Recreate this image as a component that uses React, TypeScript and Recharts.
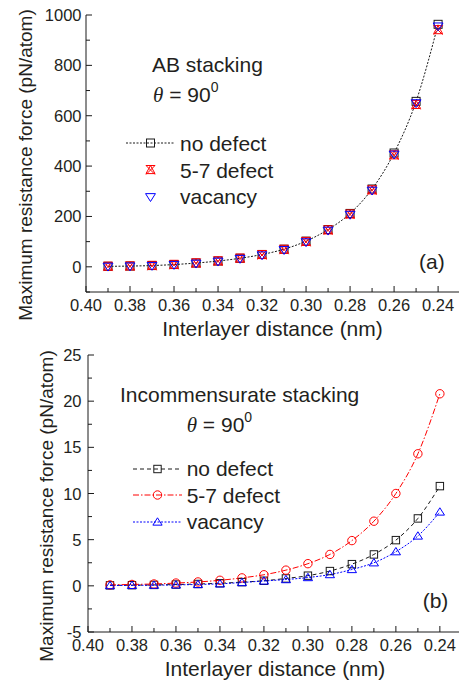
import React from 'react';
import { LineChart, Line, XAxis, YAxis, Legend } from 'recharts';

const distances = [0.39, 0.38, 0.37, 0.36, 0.35, 0.34, 0.33, 0.32, 0.31, 0.3, 0.29, 0.28, 0.27, 0.26, 0.25, 0.24];

const abNoDefect = [2, 3, 5, 9, 15, 23, 34, 49, 70, 102, 148, 212, 309, 452, 657, 963];
const abDefect57 = [1, 2, 4, 8, 14, 22, 33, 47, 68, 99, 145, 208, 304, 443, 643, 940];
const abVacancy = [1, 2, 4, 8, 13, 21, 32, 46, 67, 98, 144, 207, 303, 446, 650, 955];

const incNoDefect = [0.05, 0.07, 0.1, 0.14, 0.2, 0.28, 0.4, 0.55, 0.8, 1.1, 1.6, 2.35, 3.4, 4.95, 7.3, 10.8];
const incDefect57 = [0.1, 0.15, 0.2, 0.3, 0.42, 0.6, 0.86, 1.2, 1.7, 2.4, 3.4, 4.9, 7.0, 10.0, 14.3, 20.8];
const incVacancy = [0.03, 0.05, 0.07, 0.1, 0.15, 0.22, 0.36, 0.53, 0.68, 0.9, 1.22, 1.77, 2.5, 3.7, 5.4, 8.0];

const xTicks = [0.4, 0.39, 0.38, 0.37, 0.36, 0.35, 0.34, 0.33, 0.32, 0.31, 0.3, 0.29, 0.28, 0.27, 0.26, 0.25, 0.24];
const xLabelTicks = [0.4, 0.38, 0.36, 0.34, 0.32, 0.3, 0.28, 0.26, 0.24];
const abYTicks = [-100, 0, 100, 200, 300, 400, 500, 600, 700, 800, 900, 1000];
const abYLabelTicks = [0, 200, 400, 600, 800, 1000];
const incYTicks = [-5, -2.5, 0, 2.5, 5, 7.5, 10, 12.5, 15, 17.5, 20, 22.5, 25];
const incYLabelTicks = [-5, 0, 5, 10, 15, 20, 25];

const abData = distances.map((d, i) => ({ d, no: abNoDefect[i], d57: abDefect57[i], vac: abVacancy[i] }));
const incData = distances.map((d, i) => ({ d, no: incNoDefect[i], d57: incDefect57[i], vac: incVacancy[i] }));

const FONT = '"Liberation Sans", Arial, Helvetica, sans-serif';
const TXT = '#231f20';
const RED = '#ff0000';
const BLUE = '#0000ff';
const BLACK = '#1a1a1a';

const isIn = (arr: number[], v: number) => arr.some((a) => Math.abs(a - v) < 1e-9);

type ShapeName = 'square' | 'xtri' | 'tridown' | 'circle' | 'triup';

function Marker({ cx, cy, shape, color, s }: { cx: number; cy: number; shape: ShapeName; color: string; s: number }) {
  if (cx == null || cy == null) return null;
  const common = { fill: 'none', stroke: color, strokeWidth: 1 };
  switch (shape) {
    case 'square':
      return <rect x={cx - s} y={cy - s} width={2 * s} height={2 * s} {...common} />;
    case 'circle':
      return <circle cx={cx} cy={cy} r={s} {...common} />;
    case 'triup':
      return <path d={`M${cx},${cy - s} L${cx + s * 1.1},${cy + s * 0.75} L${cx - s * 1.1},${cy + s * 0.75} Z`} {...common} />;
    case 'tridown':
      return <path d={`M${cx - s * 1.1},${cy - s * 0.75} L${cx + s * 1.1},${cy - s * 0.75} L${cx},${cy + s} Z`} {...common} />;
    case 'xtri':
      return (
        <path
          d={`M${cx - s},${cy - s} L${cx + s},${cy + s} M${cx + s},${cy - s} L${cx - s},${cy + s} M${cx},${cy - s} L${cx + s},${cy + s * 0.8} L${cx - s},${cy + s * 0.8} Z M${cx - s},${cy - s} L${cx + s},${cy - s}`}
          {...common}
        />
      );
    default:
      return null;
  }
}

const dotFn = (shape: ShapeName, color: string, s: number) => (p: any) => (
  <Marker key={`m-${shape}-${p.index}`} cx={p.cx} cy={p.cy} shape={shape} color={color} s={s} />
);

const BottomTick = (labels: number[]) => (p: any) => {
  const { x, y, payload } = p;
  const v = payload.value;
  const major = isIn(labels, v);
  return (
    <g>
      <line x1={x} y1={y} x2={x} y2={y - (major ? 6 : 4)} stroke={BLACK} strokeWidth={1} />
      {major && (
        <text x={x} y={y + 13} textAnchor="middle" dominantBaseline="central" fontSize={16.5} fill={TXT} fontFamily={FONT}>
          {v.toFixed(2)}
        </text>
      )}
    </g>
  );
};

const TopTick = (labels: number[]) => (p: any) => {
  const { x, y, payload } = p;
  const major = isIn(labels, payload.value);
  return <line x1={x} y1={y} x2={x} y2={y + (major ? 6 : 4)} stroke={BLACK} strokeWidth={1} />;
};

const LeftTick = (labels: number[], gap: number) => (p: any) => {
  const { x, y, payload } = p;
  const v = payload.value;
  const major = isIn(labels, v);
  return (
    <g>
      <line x1={x} y1={y} x2={x + (major ? 6 : 4)} y2={y} stroke={BLACK} strokeWidth={1} />
      {major && (
        <text x={x - gap} y={y} textAnchor="end" dominantBaseline="central" fontSize={16.5} fill={TXT} fontFamily={FONT}>
          {String(v)}
        </text>
      )}
    </g>
  );
};

const RightTick = (labels: number[]) => (p: any) => {
  const { x, y, payload } = p;
  const major = isIn(labels, payload.value);
  return <line x1={x} y1={y} x2={x - (major ? 6 : 4)} y2={y} stroke={BLACK} strokeWidth={1} />;
};

type LegendItem = { label: string; color: string; shape: ShapeName; dash?: string; s: number };

const abLegend: LegendItem[] = [
  { label: 'no defect', color: BLACK, shape: 'square', dash: '2 1.5', s: 4 },
  { label: '5-7 defect', color: RED, shape: 'xtri', s: 4.5 },
  { label: 'vacancy', color: BLUE, shape: 'tridown', s: 4.5 },
];
const incLegend: LegendItem[] = [
  { label: 'no defect', color: BLACK, shape: 'square', dash: '4 3', s: 3.7 },
  { label: '5-7 defect', color: RED, shape: 'circle', dash: '6 2 1.5 2', s: 4.2 },
  { label: 'vacancy', color: BLUE, shape: 'triup', dash: '2 1.5', s: 4.2 },
];

const LegendBox = ({ items, rowH, gap }: { items: LegendItem[]; rowH: number; gap: number }) => (
  <div style={{ fontFamily: FONT }}>
    {items.map((it) => (
      <div key={it.label} style={{ display: 'flex', alignItems: 'center', height: rowH }}>
        <svg width={49} height={20} style={{ display: 'block' }}>
          {it.dash && <line x1={0} y1={10} x2={49} y2={10} stroke={it.color} strokeWidth={1} strokeDasharray={it.dash} />}
          <Marker cx={24.5} cy={10} shape={it.shape} color={it.color} s={it.s} />
        </svg>
        <span style={{ marginLeft: gap, fontSize: 21, color: TXT, lineHeight: '21px', whiteSpace: 'nowrap' }}>{it.label}</span>
      </div>
    ))}
  </div>
);

const yTitle = (cx: number, cy: number) => () => (
  <text
    x={cx}
    y={cy}
    transform={`rotate(-90 ${cx} ${cy})`}
    textAnchor="middle"
    dominantBaseline="central"
    fontSize={19}
    fill={TXT}
    fontFamily={FONT}
  >
    Maximum resistance force (pN/atom)
  </text>
);

const xTitle = (cx: number, by: number) => () => (
  <text x={cx} y={by} textAnchor="middle" fontSize={21} fill={TXT} fontFamily={FONT}>
    Interlayer distance (nm)
  </text>
);

export default function App() {
  return (
    <div style={{ position: 'absolute', left: 0, top: 0, width: 459, height: 683, background: '#fff', overflow: 'hidden' }}>
      <div style={{ position: 'absolute', left: 0, top: 0 }}>
        <LineChart width={459} height={345} data={abData} margin={{ top: 15, right: 0, bottom: 0, left: 0 }}>
          <XAxis
            xAxisId="b"
            dataKey="d"
            type="number"
            domain={[0.2305, 0.4]}
            reversed
            allowDataOverflow
            ticks={xTicks}
            interval={0}
            tickSize={0}
            tickMargin={0}
            tickLine={false}
            axisLine={{ stroke: BLACK }}
            tick={BottomTick(xLabelTicks)}
            height={53}
            label={{ content: xTitle(272.5, 335.5) }}
          />
          <XAxis
            xAxisId="t"
            orientation="top"
            type="number"
            domain={[0.2305, 0.4]}
            reversed
            allowDataOverflow
            ticks={xTicks}
            interval={0}
            tickSize={0}
            tickMargin={0}
            tickLine={false}
            axisLine={{ stroke: BLACK }}
            tick={TopTick(xLabelTicks)}
            height={0}
          />
          <YAxis
            yAxisId="l"
            type="number"
            domain={[-100, 1000]}
            allowDataOverflow
            ticks={abYTicks}
            interval={0}
            tickSize={0}
            tickMargin={0}
            tickLine={false}
            axisLine={{ stroke: BLACK }}
            tick={LeftTick(abYLabelTicks, 4.5)}
            width={86}
            label={{ content: yTitle(25.5, 165) }}
          />
          <YAxis
            yAxisId="r"
            orientation="right"
            type="number"
            domain={[-100, 1000]}
            allowDataOverflow
            ticks={abYTicks}
            interval={0}
            tickSize={0}
            tickMargin={0}
            tickLine={false}
            axisLine={false}
            tick={RightTick(abYLabelTicks)}
            width={0}
          />
          <Line
            xAxisId="b"
            yAxisId="l"
            dataKey="no"
            type="monotone"
            stroke={BLACK}
            strokeWidth={1}
            strokeDasharray="2 1.5"
            dot={dotFn('square', BLACK, 4)}
            isAnimationActive={false}
          />
          <Line
            xAxisId="b"
            yAxisId="l"
            dataKey="d57"
            type="monotone"
            stroke="none"
            dot={dotFn('xtri', RED, 4.5)}
            isAnimationActive={false}
          />
          <Line
            xAxisId="b"
            yAxisId="l"
            dataKey="vac"
            type="monotone"
            stroke="none"
            dot={dotFn('tridown', BLUE, 4.5)}
            isAnimationActive={false}
          />
          <Legend
            layout="vertical"
            align="center"
            verticalAlign="middle"
            wrapperStyle={{ left: 126, top: 130, width: 200 }}
            content={() => <LegendBox items={abLegend} rowH={26.7} gap={5} />}
          />
        </LineChart>
      </div>
      <div style={{ position: 'absolute', left: 0, top: 330 }}>
        <LineChart width={459} height={353} data={incData} margin={{ top: 25, right: 0, bottom: 0, left: 0 }}>
          <XAxis
            xAxisId="b"
            dataKey="d"
            type="number"
            domain={[0.2313, 0.4]}
            reversed
            allowDataOverflow
            ticks={xTicks}
            interval={0}
            tickSize={0}
            tickMargin={0}
            tickLine={false}
            axisLine={{ stroke: BLACK }}
            tick={BottomTick(xLabelTicks)}
            height={51}
            label={{ content: xTitle(275, 346) }}
          />
          <XAxis
            xAxisId="t"
            orientation="top"
            type="number"
            domain={[0.2313, 0.4]}
            reversed
            allowDataOverflow
            ticks={xTicks}
            interval={0}
            tickSize={0}
            tickMargin={0}
            tickLine={false}
            axisLine={{ stroke: BLACK }}
            tick={TopTick(xLabelTicks)}
            height={0}
          />
          <YAxis
            yAxisId="l"
            type="number"
            domain={[-5, 25]}
            allowDataOverflow
            ticks={incYTicks}
            interval={0}
            tickSize={0}
            tickMargin={0}
            tickLine={false}
            axisLine={{ stroke: BLACK }}
            tick={LeftTick(incYLabelTicks, 6.5)}
            width={88}
            label={{ content: yTitle(46, 176) }}
          />
          <YAxis
            yAxisId="r"
            orientation="right"
            type="number"
            domain={[-5, 25]}
            allowDataOverflow
            ticks={incYTicks}
            interval={0}
            tickSize={0}
            tickMargin={0}
            tickLine={false}
            axisLine={false}
            tick={RightTick(incYLabelTicks)}
            width={0}
          />
          <Line
            xAxisId="b"
            yAxisId="l"
            dataKey="no"
            type="monotone"
            stroke={BLACK}
            strokeWidth={1}
            strokeDasharray="4 3"
            dot={dotFn('square', BLACK, 3.7)}
            isAnimationActive={false}
          />
          <Line
            xAxisId="b"
            yAxisId="l"
            dataKey="d57"
            type="monotone"
            stroke={RED}
            strokeWidth={1}
            strokeDasharray="6 2 1.5 2"
            dot={dotFn('circle', RED, 4.2)}
            isAnimationActive={false}
          />
          <Line
            xAxisId="b"
            yAxisId="l"
            dataKey="vac"
            type="monotone"
            stroke={BLUE}
            strokeWidth={1}
            strokeDasharray="2 1.5"
            dot={dotFn('triup', BLUE, 4.2)}
            isAnimationActive={false}
          />
          <Legend
            layout="vertical"
            align="center"
            verticalAlign="middle"
            wrapperStyle={{ left: 132.7, top: 125.8, width: 220 }}
            content={() => <LegendBox items={incLegend} rowH={26.3} gap={5} />}
          />
        </LineChart>
      </div>
      <svg width={459} height={683} style={{ position: 'absolute', left: 0, top: 0, pointerEvents: 'none' }}>
        <g fontFamily={FONT} fill={TXT} fontSize={21}>
          <text x={152} y={71.5}>AB stacking</text>
          <text x={153} y={102}>
            <tspan fontFamily='"Liberation Serif", "Times New Roman", serif' fontStyle="italic">θ</tspan>
            <tspan> = 90</tspan>
            <tspan fontSize={14} dy={-10}>0</tspan>
          </text>
          <text x={419} y={269}>(a)</text>
          <text x={120} y={401.7}>Incommensurate stacking</text>
          <text x={186.7} y={431.7}>
            <tspan fontFamily='"Liberation Serif", "Times New Roman", serif' fontStyle="italic">θ</tspan>
            <tspan> = 90</tspan>
            <tspan fontSize={14} dy={-10}>0</tspan>
          </text>
          <text x={422.7} y={607.5}>(b)</text>
        </g>
      </svg>
    </div>
  );
}
